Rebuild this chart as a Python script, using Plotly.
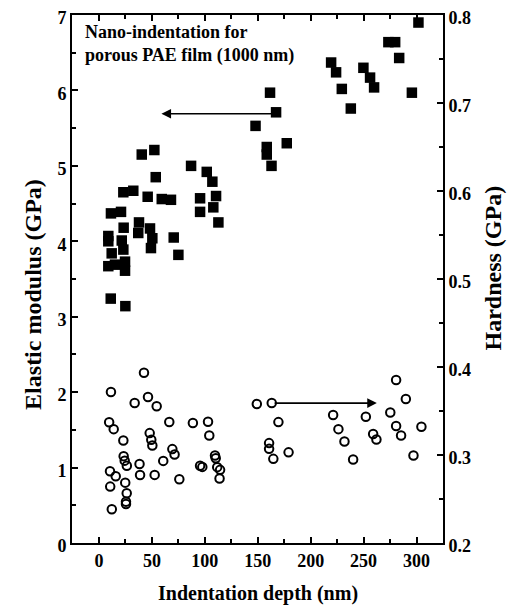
import plotly.graph_objects as go

# Elastic modulus (filled squares)
mod_depth = [40.4, 52.3, 87.0, 101.8, 107.1, 53.6, 23.0, 32.4, 46.0, 59.3, 68.0, 95.5, 110.6, 108.0,
             95.5, 112.8, 11.3, 20.8, 23.3, 37.8, 37.1, 48.2, 50.4, 8.8, 8.8, 21.5, 23.0, 49.1, 70.6,
             75.0, 12.0, 8.8, 15.1, 24.6, 24.6, 11.1, 24.9,
             161.6, 167.3, 147.9, 158.5, 158.5, 163.0, 177.4, 219.3, 224.0, 229.4, 237.9, 249.8,
             256.1, 259.9, 273.4, 279.8, 283.6, 295.6, 301.8]
mod_value = [5.15, 5.21, 5.00, 4.92, 4.79, 4.85, 4.65, 4.67, 4.59, 4.56, 4.55, 4.57, 4.60, 4.45,
             4.39, 4.25, 4.37, 4.39, 4.18, 4.25, 4.11, 4.17, 4.04, 4.07, 4.00, 4.01, 3.89, 3.91, 4.05,
             3.82, 3.84, 3.67, 3.69, 3.73, 3.61, 3.24, 3.14,
             5.97, 5.71, 5.53, 5.25, 5.15, 5.00, 5.30, 6.37, 6.24, 6.02, 5.76, 6.30,
             6.17, 6.04, 6.64, 6.64, 6.43, 5.97, 6.90]

# Hardness (open circles)
hard_depth = [42.5, 11.3, 33.7, 46.3, 54.5, 9.6, 13.9, 66.4, 88.7, 103.0, 104.2, 23.0, 47.9, 49.4,
              50.4, 69.3, 71.4, 23.3, 24.3, 26.3, 38.3, 60.7, 10.4, 15.8, 38.8, 52.6, 95.5, 97.6,
              109.6, 110.3, 111.7, 114.4, 113.9, 75.9, 10.6, 24.8, 26.2, 25.5, 25.5, 12.1,
              149.1, 163.2, 169.5, 160.7, 160.7, 164.7, 179.1, 221.2, 226.2, 231.9, 240.1, 252.1,
              259.0, 262.1, 275.2, 280.7, 285.4, 289.9, 280.7, 304.6, 297.1]
hard_value = [0.3935, 0.3716, 0.359, 0.366, 0.3554, 0.3372, 0.3294, 0.3375, 0.3363, 0.3377, 0.3222,
              0.3165, 0.3249, 0.3173, 0.3107, 0.3067, 0.3005, 0.2987, 0.2936, 0.2877, 0.2897, 0.2933,
              0.2816, 0.2759, 0.2772, 0.2774, 0.2877, 0.2865, 0.2994, 0.2964, 0.2862, 0.2831, 0.2732,
              0.2725, 0.2641, 0.2686, 0.2566, 0.2470, 0.2444, 0.2384,
              0.3579, 0.359, 0.3374, 0.3135, 0.3070, 0.2956, 0.3030, 0.3455, 0.3294, 0.3153, 0.2948,
              0.3434, 0.3239, 0.3176, 0.3483, 0.3329, 0.3222, 0.3637, 0.3852, 0.3321, 0.2994]

x_ticks = [0, 50, 100, 150, 200, 250, 300]
y_ticks = [0, 1, 2, 3, 4, 5, 6, 7]
y2_ticks = [0.2, 0.3, 0.4, 0.5, 0.6, 0.7, 0.8]

FONT = "Liberation Serif"
tickfont = dict(family=FONT, size=18, color="black", weight="bold")

fig = go.Figure()
fig.add_trace(go.Scatter(x=mod_depth, y=mod_value, mode="markers",
                         marker=dict(symbol="square", size=10.5, color="black", line=dict(width=0)),
                         showlegend=False))
fig.add_trace(go.Scatter(x=hard_depth, y=hard_value, mode="markers", yaxis="y2",
                         marker=dict(symbol="circle-open", size=8.5, color="black", line=dict(width=2)),
                         showlegend=False))

axis_common = dict(showline=True, linecolor="black", linewidth=2, ticks="inside", ticklen=6,
                   tickwidth=1.5, tickcolor="black", showgrid=False, zeroline=False,
                   tickfont=tickfont, automargin=False, ticklabeloverflow="allow")

# the page body adds an 8px offset; figure is sized so the plot area lands where the reference has it
fig.update_layout(
    width=508, height=602,
    margin=dict(l=64, r=73, t=7, b=67),
    paper_bgcolor="white", plot_bgcolor="white",
    xaxis=dict(range=[-25.5, 325], tickvals=x_ticks, mirror="ticks",
               minor=dict(dtick=25, tick0=0, ticks="inside", ticklen=4, tickcolor="black", tickwidth=1.5),
               **axis_common),
    yaxis=dict(range=[0, 7], tickvals=y_ticks, ticklabelshift=3,
               minor=dict(dtick=0.5, tick0=0, ticks="inside", ticklen=4, tickcolor="black", tickwidth=1.5),
               **axis_common),
    yaxis2=dict(range=[0.2, 0.8], tickvals=y2_ticks, overlaying="y", side="right",
                tickformat=".1f", ticklabelshift=3,
                minor=dict(dtick=0.05, tick0=0.2, ticks="inside", ticklen=4, tickcolor="black", tickwidth=1.5),
                **axis_common),
)

annos = [
    dict(text="Nano-indentation for<br>porous PAE film (1000 nm)", xref="paper", yref="paper",
         x=0.03, y=0.99, xanchor="left", yanchor="top", align="left", showarrow=False,
         font=dict(family=FONT, size=18, color="black", weight="bold")),
    dict(text="Indentation depth (nm)", xref="paper", yref="paper", x=0.5, y=-0.095,
         xanchor="center", yanchor="middle", showarrow=False,
         font=dict(family=FONT, size=20, color="black", weight="bold")),
    dict(text="Elastic modulus (GPa)", xref="paper", yref="paper", x=-0.105, y=0.47,
         xanchor="center", yanchor="middle", textangle=-90, showarrow=False,
         font=dict(family=FONT, size=24, color="black", weight="bold")),
    dict(text="Hardness (GPa)", xref="paper", yref="paper", x=1.135, y=0.52,
         xanchor="center", yanchor="middle", textangle=-90, showarrow=False,
         font=dict(family=FONT, size=24, color="black", weight="bold")),
    dict(x=59, y=5.69, ax=166, ay=5.69, xref="x", yref="y", axref="x", ayref="y",
         showarrow=True, arrowhead=2, arrowsize=1.2, arrowwidth=1.6, arrowcolor="black", text=""),
    dict(x=262.5, y=0.359, ax=164.5, ay=0.359, xref="x", yref="y2", axref="x", ayref="y2",
         showarrow=True, arrowhead=2, arrowsize=1.2, arrowwidth=1.6, arrowcolor="black", text=""),
]
fig.update_layout(annotations=annos)

fig.write_html("out.html")
